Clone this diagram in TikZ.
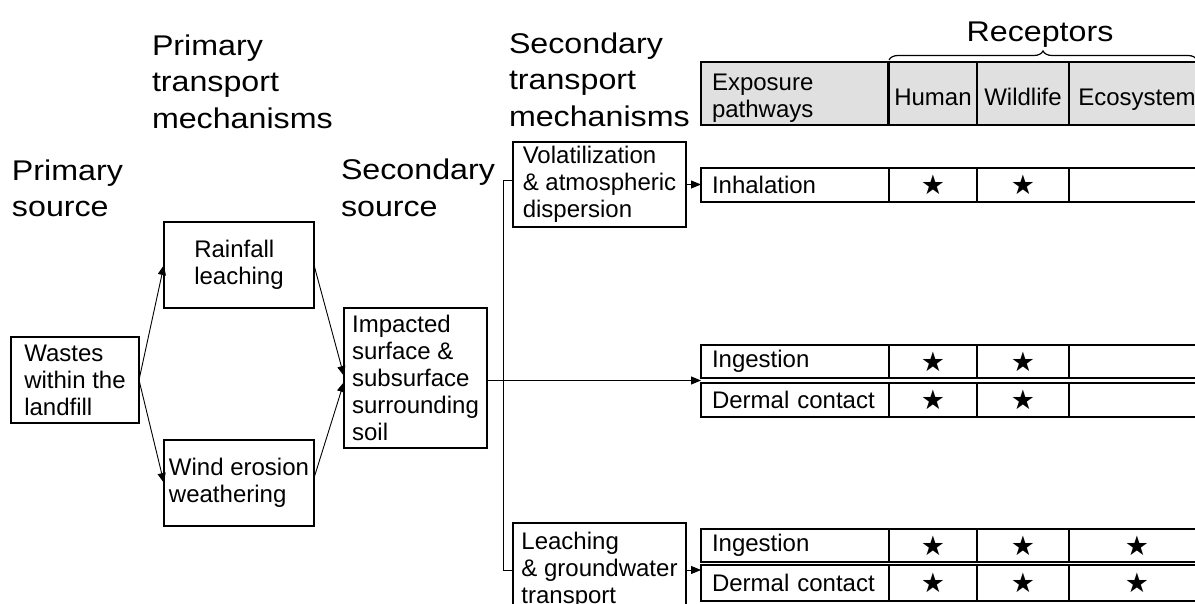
\documentclass[tikz,border=0pt]{standalone}
\usepackage{fontspec}
\setmainfont{Liberation Sans}
\newfontfamily\hdfam[FakeStretch=1.13]{Liberation Sans}
\newfontfamily\symfont{DejaVu Sans}
\usetikzlibrary{arrows.meta,decorations.pathreplacing,calc}
\definecolor{hdrgray}{RGB}{224,224,224}
\newcommand\hdfont{\hdfam\fontsize{28.5}{36.5}\selectfont}
\newcommand\bxfont{\fontsize{24}{27}\selectfont}
\newcommand\stfont{\fontsize{27}{27}\selectfont\symfont}
\newcommand\tabrow[7]{%
  \node[txtcell=166pt, minimum height=#3pt] (#1A) at (701,#2) {#4};
  \node[star, minimum width=88pt, minimum height=#3pt] (#1H) at (889,#2) {#5};
  \node[star, minimum width=92pt, minimum height=#3pt] (#1W) at (977,#2) {#6};
  \node[star, minimum width=136pt, minimum height=#3pt] (#1E) at (1069,#2) {#7};
}
\begin{document}
\begin{tikzpicture}[x=1pt,y=-1pt,
  every node/.style={outer sep=0pt},
  head/.style={anchor=north west, inner sep=0pt, align=left, font=\hdfont},
  box/.style={draw, line width=1.1pt, anchor=north west, align=left, inner sep=0pt, font=\bxfont},
  cell/.style={draw, line width=1.1pt, anchor=north west, inner sep=0pt, font=\bxfont},
  txtcell/.style={cell, align=left, inner xsep=11pt, text width=#1},
  star/.style={cell, font=\stfont},
  hdcell/.style={cell, fill=hdrgray, minimum height=63pt, text height=25pt, text depth=0pt},
  conn/.style={line width=0.9pt},
  arr/.style={conn, -{Triangle[length=10pt,width=8pt]}},
]
\useasboundingbox (0,0) rectangle (1195,604);
\clip (0,0) rectangle (1195,604);

% column headings
\node[head] (h1) at (12,159.5) {Primary\\source};
\node[head] (h2) at (152,34.5) {Primary\\transport\\mechanisms};
\node[head] (h3) at (341,159) {Secondary\\source};
\node[head] (h4) at (509,32.5) {Secondary\\transport\\mechanisms};
\node[head, anchor=base] (rec) at (1040,42) {Receptors};
\draw[conn, line width=1.2pt, decorate, decoration={brace, amplitude=9pt}] (889,60) -- (1197,60);

% boxes
\node[box, minimum width=128pt, minimum height=86pt] (wastes) at (11,337) {Wastes\\within the\\landfill};
\node[box, minimum width=150pt, minimum height=86pt] (rain) at (164,222) {Rainfall\\leaching};
\node[box, minimum width=150pt, minimum height=86pt] (wind) at (164,440) {Wind erosion\\weathering};
\node[box, minimum width=143pt, minimum height=140pt] (imp) at (344,308) {Impacted\\surface \&\\subsurface\\surrounding\\soil};
\node[box, minimum width=173pt, minimum height=85pt] (vol) at (513,142) {Volatilization\\\& atmospheric\\dispersion};
\node[box, minimum width=173pt, minimum height=94pt] (leach) at (513,523) {Leaching\\\& groundwater\\transport};

% table
\node[txtcell=165pt, fill=hdrgray, minimum height=63pt, text height=21.2pt, text depth=28pt] (hdA) at (701,62) {Exposure\\pathways};
\node[hdcell, minimum width=88pt] (hdH) at (889,62) {Human};
\node[hdcell, minimum width=92pt] (hdW) at (977,62) {Wildlife};
\node[hdcell, minimum width=136pt] (hdE) at (1069,62) {Ecosystem};
\tabrow{inh}{168}{34}{Inhalation}{★}{★}{}
\tabrow{ingA}{345}{33}{Ingestion}{★}{★}{}
\tabrow{derA}{383}{34}{Dermal contact}{★}{★}{}
\tabrow{ingB}{529}{33}{Ingestion}{★}{★}{★}
\tabrow{derB}{565}{36}{Dermal contact}{★}{★}{★}

% connectors
\draw[arr] (wastes.east) -- (rain.west);
\draw[arr] (wastes.east) -- (wind.west);
\draw[arr] (rain.east) -- ([yshift=2pt]imp.west);
\draw[arr] ([yshift=5pt]wind.east) -- ([yshift=-4pt]imp.west);
\coordinate (midtgt) at ($(ingAA.south west)!0.5!(derAA.north west)$);
\draw[arr] (imp.east |- midtgt) -- (midtgt);
\draw[conn] ([yshift=4pt]vol.west) -- ++(-10,0) |- (leach.west);
\draw[arr] (vol.east) -- (vol.east -| inhA.west);
\draw[arr] (leach.east) -- (leach.east -| derBA.west);
\end{tikzpicture}
\end{document}
